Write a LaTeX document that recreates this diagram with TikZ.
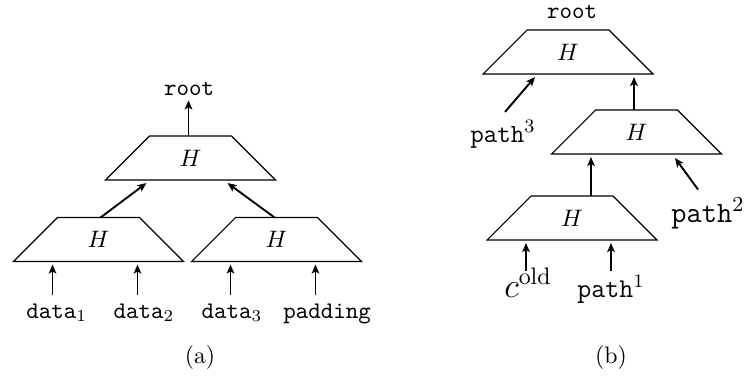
\documentclass[tikz,border=0pt]{standalone}
\usepackage{fontspec}
\usetikzlibrary{arrows.meta,calc}
% a hash box: an H inside a trapezoid, with coordinates on its top and bottom sides
\newcommand{\hashbox}[2]{%
  \node (#1) at (#2) {$H$};
  \draw[trap] (#1) +(-85,22) -- +(85,22) -- +(41,-22) -- +(-41,-22) -- cycle;
  \coordinate (#1-top) at ($(#1)+(0,-22)$);
  \coordinate (#1-bot) at ($(#1)+(0,22)$);}
\begin{document}
\begin{tikzpicture}[x=0.42pt,y=-0.42pt,
  trap/.style={line width=0.45pt, line join=miter},
  arr/.style={line width=0.8pt, -{Stealth[length=3.8pt,width=3.2pt,inset=0.9pt]}},
  lbl/.style={anchor=base, inner sep=3.3pt},
  lbltight/.style={anchor=base, inner sep=1.5pt}]
\useasboundingbox (0,0) rectangle (744,376);

% ---- (a): binary tree of hashes ----
\hashbox{aT}{190.5,158}
\hashbox{aL}{98.5,239.5}
\hashbox{aR}{276.5,239.5}

\node[lbl, inner sep=2pt] (aroot) at (189,95) {\texttt{root}};
\node[lbl] (d1) at (56.7,318) {\texttt{data}$_1$};
\node[lbl] (d2) at (144,318) {\texttt{data}$_2$};
\node[lbl] (d3) at (232,318) {\texttt{data}$_3$};
\node[lbl] (pad) at (327,318) {\texttt{padding}};
\node[anchor=base] (capa) at (200,363) {(a)};

\coordinate (a1) at ($(aL-bot)+(-46,3)$);
\coordinate (a2) at ($(aL-bot)+(39,3)$);
\coordinate (a3) at ($(aR-bot)+(-46,3)$);
\coordinate (a4) at ($(aR-bot)+(39,3)$);
\coordinate (aTl) at ($(aT-bot)+(-44,3)$);
\coordinate (aTr) at ($(aT-bot)+(37,3)$);

\draw[arr] (d1.north -| a1) -- (a1);
\draw[arr] (d2.north -| a2) -- (a2);
\draw[arr] (d3.north -| a3) -- (a3);
\draw[arr] (pad.north -| a4) -- (a4);
\draw[arr] ($(aL-top)+(2,0)$) -- (aTl);
\draw[arr] ($(aR-top)+(-2,0)$) -- (aTr);
\draw[arr] ($(aT-top)+(-2,0)$) -- ($(aT-top |- aroot.south)+(-2,0)$);

% ---- (b): chained hashes along a path ----
\hashbox{bT}{568,52}
\hashbox{bM}{636.5,132}
\hashbox{bB}{572,218}

\node[anchor=base] (broot) at (572,18) {\texttt{root}};
\node[lbl] (p3) at (503,142) {\fontsize{11}{13}\selectfont\texttt{path}$^3$};
\node[lbl] (p2) at (708,222) {\fontsize{12.4}{14}\selectfont\texttt{path}$^2$};
\node[lbltight] (cold) at (528,297) {\fontsize{14.4}{17}\selectfont$c^{\mathrm{old}}$};
\node[lbltight] (p1) at (611,297) {\fontsize{11.4}{13}\selectfont\texttt{path}$^1$};
\node[anchor=base] (capb) at (611,363) {(b)};

\coordinate (b1) at ($(bB-bot)+(-46,3)$);
\coordinate (b2) at ($(bB-bot)+(39,3)$);
\coordinate (bMin) at ($(bM-bot)+(-45.5,3)$);
\coordinate (bMside) at ($(bM-bot)+(38.5,4)$);
\coordinate (bTin) at ($(bT-bot)+(66,3)$);
\coordinate (bTside) at ($(bT-bot)+(-33,3)$);

% both inputs of the lowest box start at the same height
\draw[arr] (b1 |- p1.north) -- (b1);
\draw[arr] (p1.north -| b2) -- (b2);
\draw[arr] (bMin |- bB-top) -- (bMin);
\draw[arr] (bTin |- bM-top) -- (bTin);
\draw[arr] ($(p2.north)+(-10,0)$) -- (bMside);
\draw[arr] ($(p3.north)+(2,0)$) -- (bTside);
\end{tikzpicture}
\end{document}
